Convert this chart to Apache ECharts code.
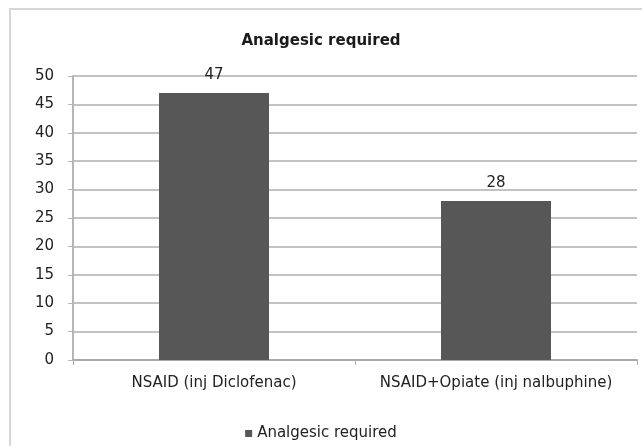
<!DOCTYPE html>
<html><head><meta charset="utf-8">
<script src="https://cdn.jsdelivr.net/npm/echarts@6/dist/echarts.min.js"></script>
<style>html,body{margin:0;padding:0;background:#fff}#c{width:642px;height:446px}</style>
</head><body><div id="c"></div>
<script>
const categories = ["NSAID (inj Diclofenac)", "NSAID+Opiate (inj nalbuphine)"];
const seriesName = "Analgesic required";
const values = [47, 28];

const FONT = 'DejaVu Sans';
const chart = echarts.init(document.getElementById('c'));
chart.setOption({
  animation: false,
  backgroundColor: '#fff',
  graphic: [{
    type: 'rect', shape: {x: 10, y: 9, width: 650, height: 460},
    style: {fill: 'none', stroke: '#d6d6d6', lineWidth: 2}, silent: true
  }],
  title: {
    text: 'Analgesic required', left: 'center', top: 29,
    textStyle: {fontFamily: FONT, fontSize: 15, fontWeight: 'bold', color: '#1a1a1a'}
  },
  legend: {
    top: 421, left: 'center', itemWidth: 7, itemHeight: 7, icon: 'rect', itemGap: 6,
    textStyle: {fontFamily: FONT, fontSize: 15, color: '#222'},
    data: [seriesName]
  },
  grid: {left: 73, right: 5, top: 76, bottom: 86},
  xAxis: {
    type: 'category', data: categories,
    axisLine: {lineStyle: {color: '#aaa', width: 2}},
    axisTick: {show: true, length: 5, lineStyle: {color: '#aaa'}},
    axisLabel: {fontFamily: FONT, fontSize: 15, color: '#222', margin: 16, interval: 0, hideOverlap: false}
  },
  yAxis: {
    type: 'value', min: 0, max: 50, interval: 5,
    axisLine: {show: true, lineStyle: {color: '#b5b5b5', width: 2}},
    axisTick: {show: true, length: 5, lineStyle: {color: '#b5b5b5'}},
    splitLine: {lineStyle: {color: '#c2c2c2', width: 2}},
    axisLabel: {fontFamily: FONT, fontSize: 15, color: '#222', margin: 19}
  },
  series: [{
    name: seriesName, type: 'bar', data: values, barWidth: '39%',
    itemStyle: {color: '#575757'},
    label: {show: true, position: 'top', distance: 10, fontFamily: FONT, fontSize: 15, color: '#222'}
  }]
});
</script></body></html>
